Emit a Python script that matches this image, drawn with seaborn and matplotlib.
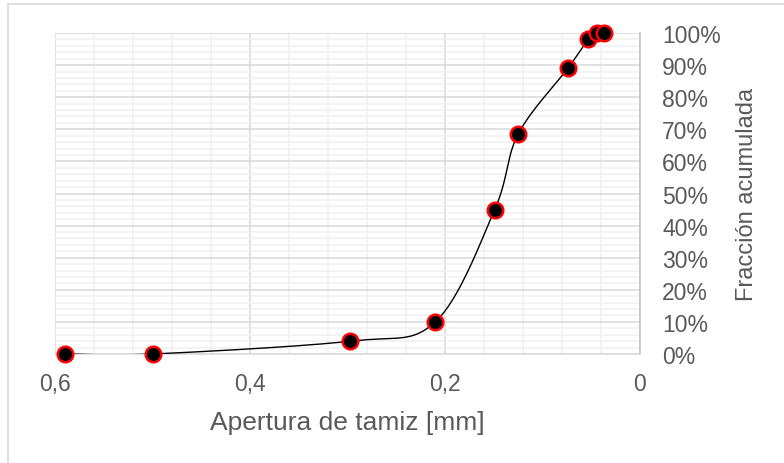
import numpy as np
import pandas as pd
import matplotlib
matplotlib.use("Agg")
import matplotlib.pyplot as plt
import seaborn as sns
from matplotlib.lines import Line2D
from matplotlib.ticker import FuncFormatter, MultipleLocator

# ---- data ----
apertura_mm = [0.59, 0.50, 0.297, 0.21, 0.149, 0.125, 0.074, 0.053, 0.044, 0.037]
fraccion = [0.0, 0.0, 0.04, 0.10, 0.45, 0.685, 0.89, 0.98, 1.0, 1.0]
x_ticks = [0.6, 0.4, 0.2, 0.0]
y_ticks = [0.0, 0.1, 0.2, 0.3, 0.4, 0.5, 0.6, 0.7, 0.8, 0.9, 1.0]
x_label = "Apertura de tamiz [mm]"
y_label = "Fracción acumulada"

df = pd.DataFrame({"x": apertura_mm, "y": fraccion})

# Excel-style smoothed line (cubic Bezier through points)
def smooth(xs, ys, n=40):
    P = np.column_stack([xs, ys]).astype(float)
    out = []
    m = len(P)
    for i in range(m - 1):
        p0 = P[i]
        p3 = P[i + 1]
        pm = P[i - 1] if i > 0 else P[i]
        pp = P[i + 2] if i + 2 < m else P[i + 1]
        c1 = p0 + (p3 - pm) / 6.0
        c2 = p3 - (pp - p0) / 6.0
        t = np.linspace(0, 1, n)[:, None]
        seg = ((1 - t) ** 3) * p0 + 3 * ((1 - t) ** 2) * t * c1 + 3 * (1 - t) * t ** 2 * c2 + t ** 3 * p3
        out.append(seg if i == 0 else seg[1:])
    c = np.vstack(out)
    return c[:, 0], c[:, 1]

sx, sy = smooth(apertura_mm, fraccion)

sns.set_theme(style="white")
plt.rcParams["font.family"] = ["Liberation Sans", "DejaVu Sans"]

W, H = 784, 464
fig = plt.figure(figsize=(W / 100, H / 100), dpi=100)
L, R, T, B = 55, 640, 34, 355
ax = fig.add_axes([L / W, 1 - B / H, (R - L) / W, (B - T) / H])

txt = "#595959"

# grid
ax.xaxis.set_minor_locator(MultipleLocator(0.04))
ax.yaxis.set_minor_locator(MultipleLocator(0.02))
ax.grid(which="minor", color="#F0F0F0", linewidth=1.1)
ax.grid(which="major", color="#D9D9D9", linewidth=1.1)
ax.set_axisbelow(True)

ax.plot(sx, sy, color="black", linewidth=1.0, zorder=3, solid_capstyle="round")
sns.scatterplot(data=df, x="x", y="y", ax=ax, s=125, color="black",
                edgecolor="#FF0000", linewidth=1.8, zorder=4, legend=False, clip_on=False)

ax.set_xlim(0.6, 0.0)
ax.set_ylim(0.0, 1.0)
ax.set_xticks(x_ticks)
ax.set_yticks(y_ticks)
ax.xaxis.set_major_formatter(FuncFormatter(lambda v, p: ("%g" % round(v, 2)).replace(".", ",")))
ax.yaxis.set_major_formatter(FuncFormatter(lambda v, p: "%d%%" % round(v * 100)))
ax.yaxis.tick_right()
ax.yaxis.set_label_position("right")
ax.tick_params(axis="both", which="both", length=0, labelsize=16.5, colors=txt)
ax.tick_params(axis="y", pad=16)
ax.tick_params(axis="x", pad=13)

ax.set_xlabel(x_label, fontsize=19, color=txt, labelpad=11)
ax.set_ylabel(y_label, fontsize=17, color=txt, labelpad=11)

for s in ["top", "left"]:
    ax.spines[s].set_visible(False)
ax.spines["bottom"].set_color("#D9D9D9")
ax.spines["right"].set_color("#BFBFBF")
for s in ["bottom", "right"]:
    ax.spines[s].set_linewidth(1.1)

# outer chart border (partly outside the picture)
fig.add_artist(Line2D([8 / W, 1.0], [1 - 4.5 / H, 1 - 4.5 / H], transform=fig.transFigure,
                      color="#D9D9D9", linewidth=1.2))
fig.add_artist(Line2D([8 / W, 8 / W], [0.0, 1 - 4.5 / H], transform=fig.transFigure,
                      color="#D9D9D9", linewidth=1.2))

fig.savefig("out.png", dpi=100)
